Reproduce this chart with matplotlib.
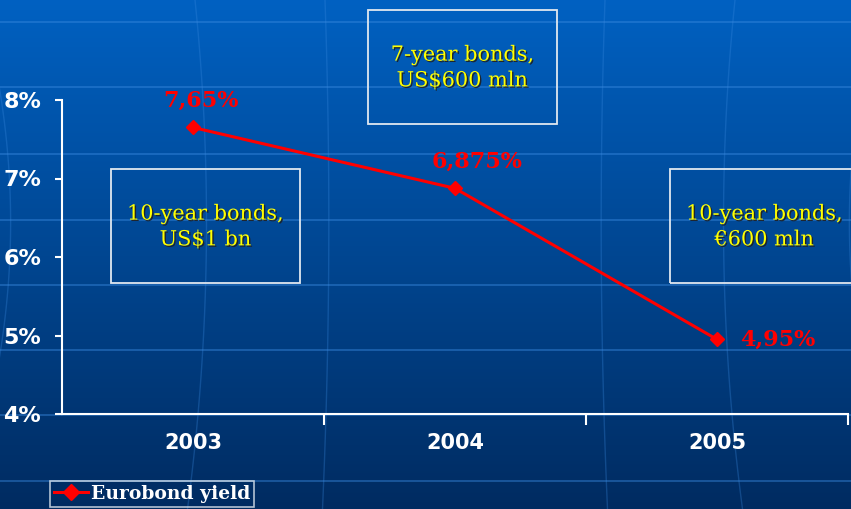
import numpy as np
import matplotlib
matplotlib.use("Agg")
import matplotlib.pyplot as plt
import matplotlib.patheffects as pe
from matplotlib.lines import Line2D

years = ["2003", "2004", "2005"]
yields = [7.65, 6.875, 4.95]
value_labels = ["7,65%", "6,875%", "4,95%"]
y_ticks = [4, 5, 6, 7, 8]
y_tick_labels = ["4%", "5%", "6%", "7%", "8%"]
notes = ["10-year bonds,\nUS$1 bn", "7-year bonds,\nUS$600 mln", "10-year bonds,\n€600 mln"]

W, H = 851, 509
fig = plt.figure(figsize=(W / 100, H / 100), dpi=100)

# background: blue gradient with faint globe lines
bg = fig.add_axes([0, 0, 1, 1])
grad = np.linspace(0, 1, 256)[:, None]
top = np.array([0.0, 0.38, 0.76])
bot = np.array([0.0, 0.17, 0.38])
img = top + (bot - top) * grad[..., None]
bg.imshow(img, aspect="auto", extent=[0, W, H, 0])
for yy in [22, 87, 154, 220, 285, 350, 415, 481]:
    bg.plot([0, W], [yy, yy], color="#3a8ae0", lw=1.2, alpha=0.5)
t = np.linspace(0, 1, 100)
for x0, bend in [(20, -40), (210, -15), (330, -5), (600, 5), (720, 15), (840, 40)]:
    bg.plot(x0 + bend * (t - 0.5) ** 2 * 4 + bend * t * 0.5, t * H, color="#3a8ae0", lw=1, alpha=0.3)
bg.set_xlim(0, W)
bg.set_ylim(H, 0)
bg.axis("off")

# main axes
ax = fig.add_axes([62 / W, 1 - 414 / H, (848 - 62) / W, (414 - 100) / H])
ax.patch.set_alpha(0)
x = np.arange(len(years))
ax.plot(x, yields, color="red", lw=2.2, marker="D", ms=7, mec="red", mfc="red",
        label="Eurobond yield", zorder=5)
ax.set_xlim(-0.5, 2.5)
ax.set_ylim(4, 8)
ax.set_yticks(y_ticks)
ax.set_yticklabels(y_tick_labels)
ax.set_xticks(x)
ax.set_xticklabels(years)
ax.set_xticks([0.5, 1.5, 2.5], minor=True)
ax.tick_params(axis="x", which="major", length=0, pad=14, labelsize=15, labelcolor="white")
ax.tick_params(axis="x", which="minor", length=8, width=1.5, color="white", direction="out")
ax.tick_params(axis="y", length=5, width=1.5, color="white", labelsize=16,
               labelcolor="white", pad=10)
for lab in ax.get_xticklabels() + ax.get_yticklabels():
    lab.set_fontweight("bold")
for s in ["top", "right"]:
    ax.spines[s].set_visible(False)
for s in ["left", "bottom"]:
    ax.spines[s].set_color("white")
    ax.spines[s].set_linewidth(1.5)

# value labels
offsets = [((6, 19), "center"), ((16, 19), "center"), ((17, 0), "left")]
for xi, yi, lab, (off, ha) in zip(x, yields, value_labels, offsets):
    ax.annotate(lab, (xi, yi), xytext=off, textcoords="offset points", ha=ha, va="center",
                color="red", fontsize=16, fontweight="bold", family="DejaVu Serif")

# note boxes
shadow = [pe.withSimplePatchShadow(offset=(1, -1), shadow_rgbFace="#202020", alpha=0.9)]
box_xy = [(111, 169), (368, 10), (670, 169)]
for (bx, by), txt in zip(box_xy, notes):
    bw, bh = 189, 114
    fig.patches.append(plt.Rectangle((bx / W, 1 - (by + bh) / H), bw / W, bh / H,
                                     transform=fig.transFigure, fill=False,
                                     ec="#e0e8f0", lw=1.3, zorder=3))
    fig.text((bx + bw / 2) / W, 1 - (by + bh / 2 + 1) / H, txt, ha="center", va="center",
             color="#ffff00", fontsize=15, family="DejaVu Serif", linespacing=1.45,
             path_effects=shadow)

# legend
handle = Line2D([], [], color="red", lw=2.2, marker="D", ms=8, mfc="red", mec="red")
leg = fig.legend([handle], ["Eurobond yield"], loc="upper left",
                 bbox_to_anchor=(50 / W, 1 - 481 / H), frameon=True, fancybox=False,
                 borderaxespad=0, handlelength=1.8, handletextpad=0.2, borderpad=0.2,
                 prop={"family": "DejaVu Serif", "weight": "bold", "size": 13.5})
leg.get_frame().set_facecolor("none")
leg.get_frame().set_edgecolor("#e0e8f0")
leg.get_frame().set_linewidth(1.2)
for tx in leg.get_texts():
    tx.set_color("white")

fig.savefig("out.png", dpi=100)
